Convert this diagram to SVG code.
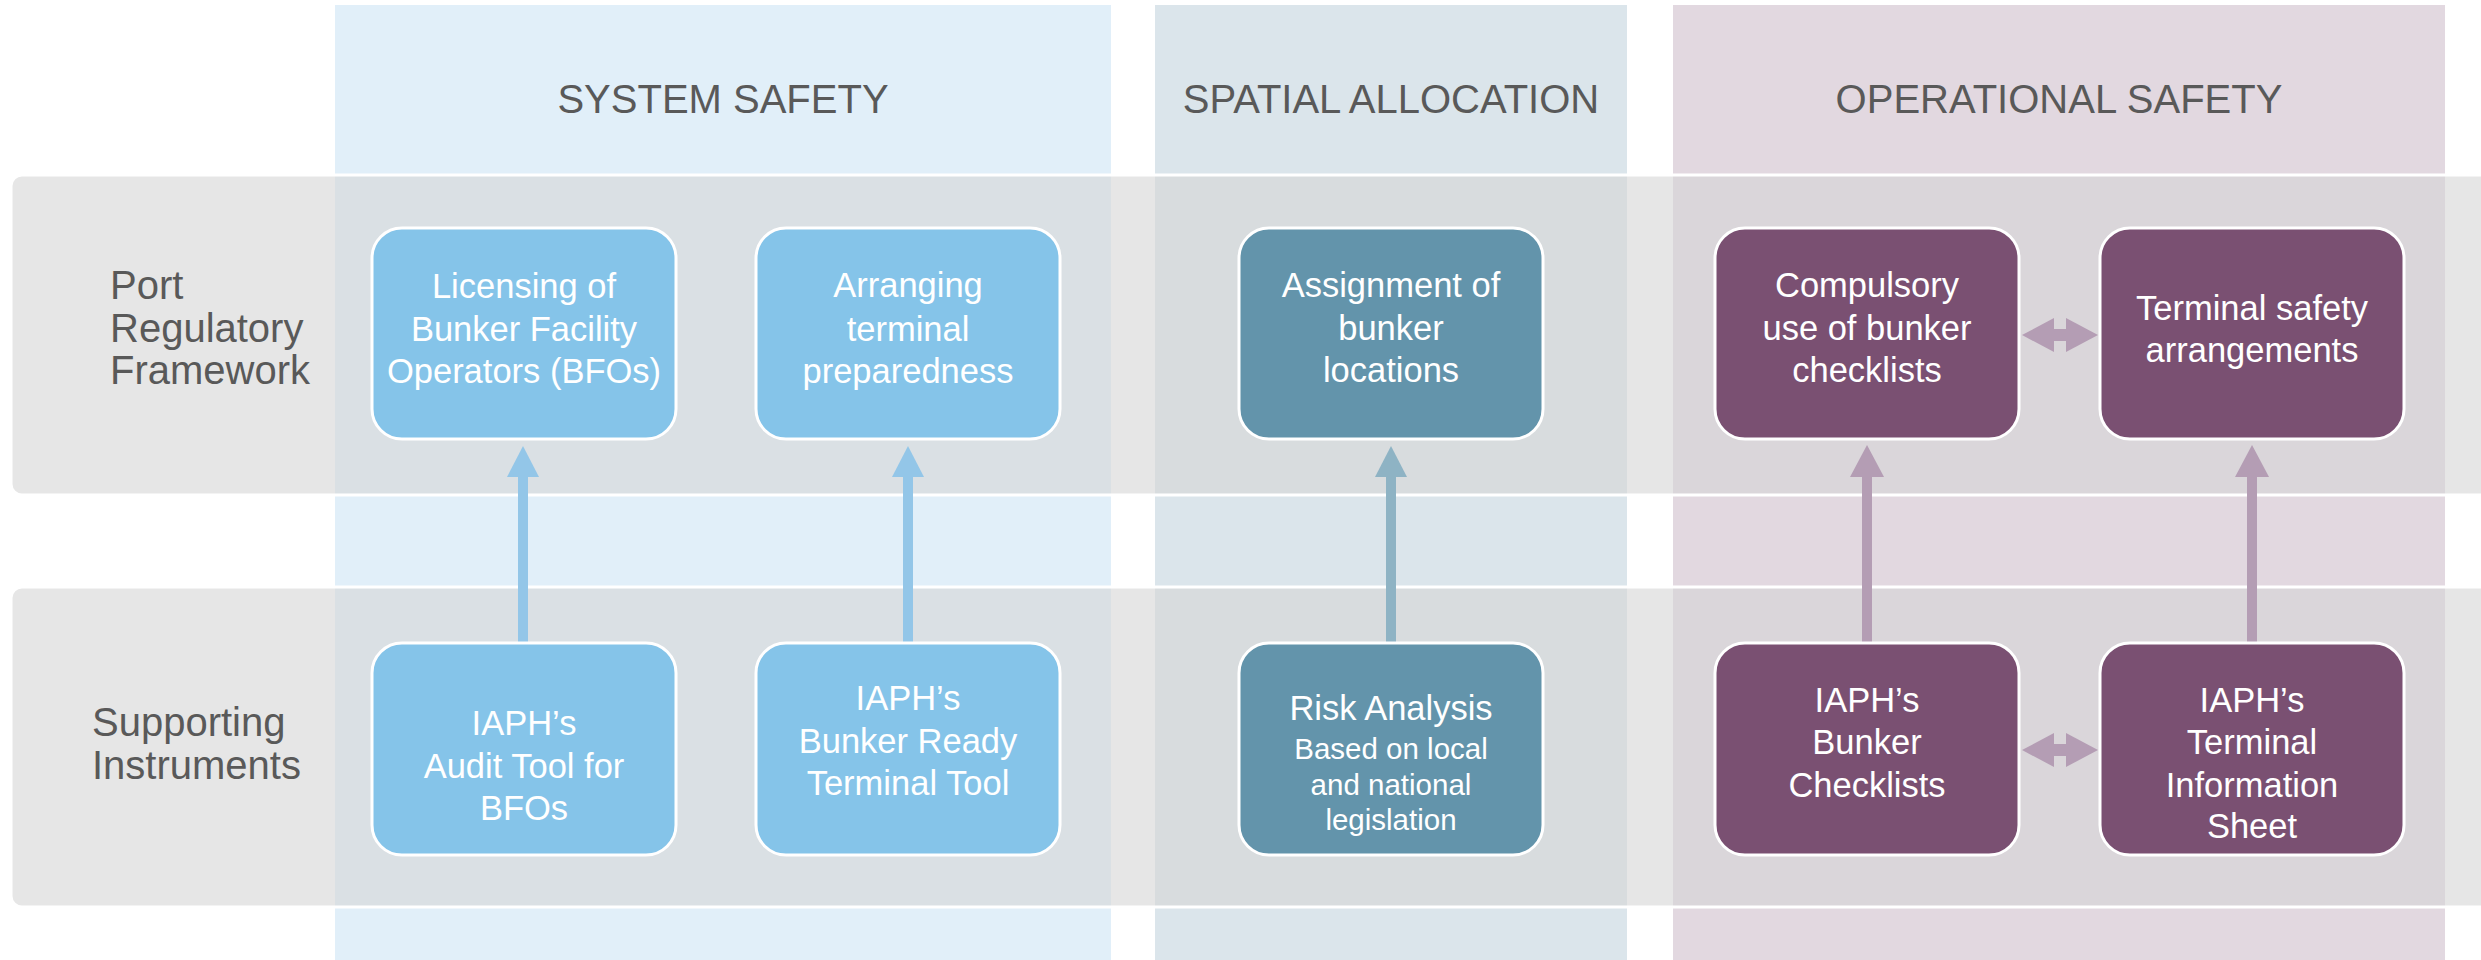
<svg xmlns="http://www.w3.org/2000/svg" width="2481" height="960" viewBox="0 0 2481 960">
  <style>
    .hdr { font-family: "Liberation Sans", Arial, sans-serif; font-size: 40px; fill: #595959; text-anchor: middle; }
    .lbl { font-family: "Liberation Sans", Arial, sans-serif; font-size: 40px; fill: #595959; }
    .bt { font-family: "Liberation Sans", Arial, sans-serif; font-size: 34.5px; fill: #ffffff; text-anchor: middle; }
    .bs { font-size: 29.5px; }
    .band { fill: #d5d5d5; fill-opacity: 0.6; stroke: #ffffff; stroke-width: 3; }
    .box { stroke: #ffffff; stroke-width: 3; }
    .blue { fill: #85c4e9; }
    .teal { fill: #6394ab; }
    .purple { fill: #7a5072; }
    .c-blue { stroke: #93c6e8; stroke-width: 10; fill: none; }
    .c-teal { stroke: #8eb3c4; stroke-width: 10; fill: none; }
    .c-purple { stroke: #b49db4; stroke-width: 10; fill: none; }
    .c-double { stroke: #b49db4; stroke-width: 12; fill: none; }
  </style>
  <defs>
    <marker id="ah-blue" markerUnits="userSpaceOnUse" markerWidth="32" markerHeight="32" refX="2" refY="16" orient="auto">
      <path d="M0,0 L31,16 L0,32 z" fill="#93c6e8"/>
    </marker>
    <marker id="ah-teal" markerUnits="userSpaceOnUse" markerWidth="32" markerHeight="32" refX="2" refY="16" orient="auto">
      <path d="M0,0 L31,16 L0,32 z" fill="#8eb3c4"/>
    </marker>
    <marker id="ah-purple" markerUnits="userSpaceOnUse" markerWidth="33" markerHeight="34" refX="2" refY="17" orient="auto-start-reverse">
      <path d="M0,0 L32,17 L0,34 z" fill="#b49db4"/>
    </marker>
  </defs>

  <rect width="2481" height="960" fill="#ffffff"/>

  <g id="columns">
    <rect x="335" y="5" width="776" height="955" fill="#e1eff9"/>
    <rect x="1155" y="5" width="472" height="955" fill="#dbe5eb"/>
    <rect x="1673" y="5" width="772" height="955" fill="#e2d8e0"/>
    <text class="hdr" x="723" y="113">SYSTEM SAFETY</text>
    <text class="hdr" x="1391" y="113">SPATIAL ALLOCATION</text>
    <text class="hdr" x="2059" y="113">OPERATIONAL SAFETY</text>
  </g>

  <g id="bands">
    <rect class="band" x="11" y="175" width="2490" height="320" rx="11"/>
    <rect class="band" x="11" y="587" width="2490" height="320" rx="11"/>
    <text class="lbl" x="110" y="299">Port</text>
    <text class="lbl" x="110" y="342">Regulatory</text>
    <text class="lbl" x="110" y="384">Framework</text>
    <text class="lbl" x="92" y="736">Supporting</text>
    <text class="lbl" x="92" y="779">Instruments</text>
  </g>

  <g id="connectors">
    <line class="c-blue" x1="523" y1="643" x2="523" y2="475" marker-end="url(#ah-blue)"/>
    <line class="c-blue" x1="908" y1="643" x2="908" y2="475" marker-end="url(#ah-blue)"/>
    <line class="c-teal" x1="1391" y1="643" x2="1391" y2="475" marker-end="url(#ah-teal)"/>
    <line class="c-purple" x1="1867" y1="643" x2="1867" y2="475" marker-end="url(#ah-purple)"/>
    <line class="c-purple" x1="2252" y1="643" x2="2252" y2="475" marker-end="url(#ah-purple)"/>
    <line class="c-double" x1="2052" y1="335" x2="2068" y2="335" marker-start="url(#ah-purple)" marker-end="url(#ah-purple)"/>
    <line class="c-double" x1="2052" y1="750" x2="2068" y2="750" marker-start="url(#ah-purple)" marker-end="url(#ah-purple)"/>
  </g>

  <g id="licensing">
    <rect class="box blue" x="372" y="228" width="304" height="211" rx="30"/>
    <text class="bt" x="524" y="298">Licensing of</text>
    <text class="bt" x="524" y="341">Bunker Facility</text>
    <text class="bt" x="524" y="383">Operators (BFOs)</text>
  </g>
  <g id="arranging">
    <rect class="box blue" x="756" y="228" width="304" height="211" rx="30"/>
    <text class="bt" x="908" y="297">Arranging</text>
    <text class="bt" x="908" y="341">terminal</text>
    <text class="bt" x="908" y="383">preparedness</text>
  </g>
  <g id="assignment">
    <rect class="box teal" x="1239" y="228" width="304" height="211" rx="30"/>
    <text class="bt" x="1391" y="297">Assignment of</text>
    <text class="bt" x="1391" y="340">bunker</text>
    <text class="bt" x="1391" y="382">locations</text>
  </g>
  <g id="compulsory">
    <rect class="box purple" x="1715" y="228" width="304" height="211" rx="30"/>
    <text class="bt" x="1867" y="297">Compulsory</text>
    <text class="bt" x="1867" y="340">use of bunker</text>
    <text class="bt" x="1867" y="382">checklists</text>
  </g>
  <g id="terminal-safety">
    <rect class="box purple" x="2100" y="228" width="304" height="211" rx="30"/>
    <text class="bt" x="2252" y="320">Terminal safety</text>
    <text class="bt" x="2252" y="362">arrangements</text>
  </g>

  <g id="audit-tool">
    <rect class="box blue" x="372" y="643" width="304" height="212" rx="30"/>
    <text class="bt" x="524" y="735">IAPH’s</text>
    <text class="bt" x="524" y="778">Audit Tool for</text>
    <text class="bt" x="524" y="820">BFOs</text>
  </g>
  <g id="bunker-ready">
    <rect class="box blue" x="756" y="643" width="304" height="212" rx="30"/>
    <text class="bt" x="908" y="710">IAPH’s</text>
    <text class="bt" x="908" y="753">Bunker Ready</text>
    <text class="bt" x="908" y="795">Terminal Tool</text>
  </g>
  <g id="risk-analysis">
    <rect class="box teal" x="1239" y="643" width="304" height="212" rx="30"/>
    <text class="bt" x="1391" y="720">Risk Analysis</text>
    <text class="bt bs" x="1391" y="759">Based on local</text>
    <text class="bt bs" x="1391" y="795">and national</text>
    <text class="bt bs" x="1391" y="830">legislation</text>
  </g>
  <g id="bunker-checklists">
    <rect class="box purple" x="1715" y="643" width="304" height="212" rx="30"/>
    <text class="bt" x="1867" y="712">IAPH’s</text>
    <text class="bt" x="1867" y="754">Bunker</text>
    <text class="bt" x="1867" y="797">Checklists</text>
  </g>
  <g id="terminal-info">
    <rect class="box purple" x="2100" y="643" width="304" height="212" rx="30"/>
    <text class="bt" x="2252" y="712">IAPH’s</text>
    <text class="bt" x="2252" y="754">Terminal</text>
    <text class="bt" x="2252" y="797">Information</text>
    <text class="bt" x="2252" y="838">Sheet</text>
  </g>
</svg>
